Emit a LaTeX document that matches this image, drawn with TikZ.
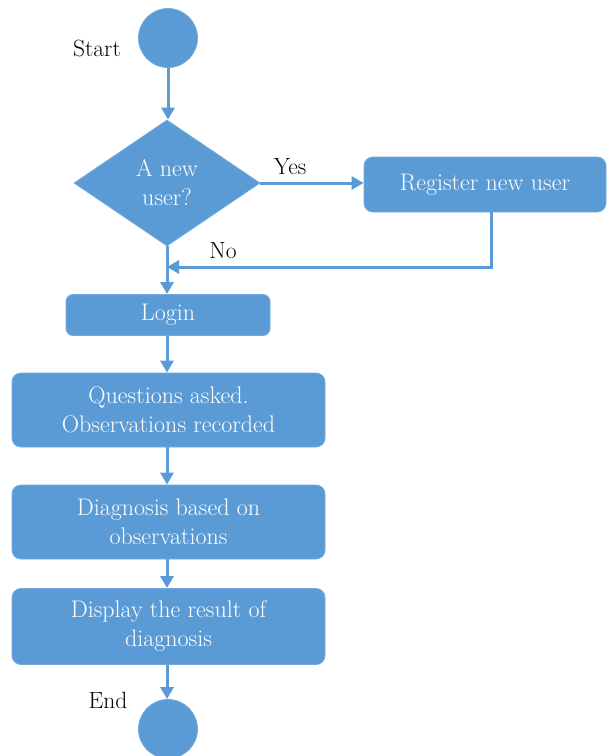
\documentclass[tikz,border=0pt]{standalone}
\usetikzlibrary{shapes.geometric,arrows.meta}
\definecolor{fcblue}{HTML}{5B9BD5}
\definecolor{fcedge}{HTML}{72AADD}
\begin{document}
\begin{tikzpicture}[x=1pt,y=-1pt,
  box/.style={rectangle,rounded corners=9pt,fill=fcblue,draw=fcedge,line width=0.8pt,inner sep=0pt,text=white,align=center,font=\fontsize{24}{29}\selectfont},
  term/.style={circle,fill=fcblue,draw=fcedge,line width=0.8pt,inner sep=0pt,minimum size=59pt},
  dec/.style={diamond,fill=fcblue,draw=fcedge,line width=0.8pt,inner sep=0pt,minimum width=186pt,minimum height=126pt,text=white,align=center,font=\fontsize{24}{29}\selectfont},
  arr/.style={draw=fcblue,line width=3pt,-{Triangle[length=12pt,width=13pt]}},
  lbl/.style={text=black,font=\fontsize{23.5}{26}\selectfont,inner sep=0pt}]
\useasboundingbox (0,0) rectangle (609,756);
\node[term] (start) at (168,38) {};
\node[lbl] (startlbl) at (97,48) {Start};
\node[dec] (dec) at (167,183) {A new\\user?};
\node[box,minimum width=242pt,minimum height=55pt] (reg) at (485,184.5) {Register new user};
\node[box,rounded corners=7pt,minimum width=204pt,minimum height=41pt] (login) at (168,315) {Login};
\node[box,minimum width=313pt,minimum height=74pt] (q) at (168.5,410) {Questions asked.\\Observations recorded};
\node[box,minimum width=313pt,minimum height=74pt] (diag) at (168.5,522) {Diagnosis based on\\observations};
\node[box,minimum width=313pt,minimum height=76pt] (disp) at (168.5,626.5) {Display the result of\\diagnosis};
\node[term] (end) at (168,729) {};
\node[lbl] (endlbl) at (108,700) {End};
\node[lbl] (yes) at (290,167) {Yes};
\node[lbl] (no) at (223,251) {No};
\coordinate (k) at (491,267);
\draw[arr] (start.south) -- (start.south |- dec.north);
\draw[arr] (dec.east) -- (dec.east -| reg.west);
\draw[arr] (dec.south) -- (dec.south |- login.north);
\draw[arr] (reg.south -| k) -- (k) -- (k -| dec.south);
\draw[arr] (login.south -| dec.south) -- (q.north -| dec.south);
\draw[arr] (q.south -| dec.south) -- (diag.north -| dec.south);
\draw[arr] (diag.south -| dec.south) -- (disp.north -| dec.south);
\draw[arr] (disp.south -| dec.south) -- (end.north -| dec.south);
\end{tikzpicture}
\end{document}
